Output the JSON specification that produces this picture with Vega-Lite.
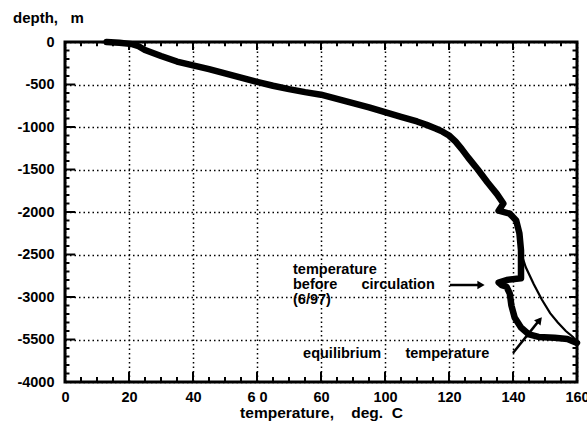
{
  "$schema": "https://vega.github.io/schema/vega-lite/v6.json",
  "width": 512,
  "height": 340,
  "autosize": {"type": "none"},
  "padding": {"left": 65, "top": 42, "right": 10, "bottom": 40},
  "background": "white",
  "config": {
    "font": "Liberation Sans",
    "view": {"stroke": "black", "strokeWidth": 3},
    "axis": {
      "domain": false,
      "ticks": false,
      "tickSize": 0,
      "labelFont": "Liberation Sans",
      "labelFontWeight": "bold",
      "labelFontSize": 14.5,
      "labelColor": "black",
      "gridColor": "black",
      "gridDash": [1.5, 3],
      "gridWidth": 1.5,
      "labelOverlap": false,
      "labelFlush": false,
      "titleFont": "Liberation Sans",
      "titleFontWeight": "bold",
      "titleFontSize": 15.5,
      "titleColor": "black"
    }
  },
  "datasets": {
    "xmajor": [{"t":0},{"t":20},{"t":40},{"t":60},{"t":80},{"t":100},{"t":120},{"t":140},{"t":160}],
    "xminor": [{"t":5},{"t":10},{"t":15},{"t":25},{"t":30},{"t":35},{"t":45},{"t":50},{"t":55},{"t":65},{"t":70},{"t":75},{"t":85},{"t":90},{"t":95},{"t":105},{"t":110},{"t":115},{"t":125},{"t":130},{"t":135},{"t":145},{"t":150},{"t":155}],
    "ymajor": [{"d":-4000},{"d":-3500},{"d":-3000},{"d":-2500},{"d":-2000},{"d":-1500},{"d":-1000},{"d":-500},{"d":0}],
    "yminor": [{"d":-3900},{"d":-3800},{"d":-3700},{"d":-3600},{"d":-3400},{"d":-3300},{"d":-3200},{"d":-3100},{"d":-2900},{"d":-2800},{"d":-2700},{"d":-2600},{"d":-2400},{"d":-2300},{"d":-2200},{"d":-2100},{"d":-1900},{"d":-1800},{"d":-1700},{"d":-1600},{"d":-1400},{"d":-1300},{"d":-1200},{"d":-1100},{"d":-900},{"d":-800},{"d":-700},{"d":-600},{"d":-400},{"d":-300},{"d":-200},{"d":-100}]
  },
  "title": {
    "text": "depth,\u00a0\u00a0\u00a0m",
    "anchor": "start",
    "frame": "group",
    "dx": -52,
    "offset": 8,
    "fontSize": 15,
    "fontWeight": "bold",
    "font": "Liberation Sans",
    "color": "black"
  },
  "layer": [
    {
      "data": {"values": [
        {"t": 13, "d": 0}, {"t": 17, "d": -10}, {"t": 21, "d": -25}, {"t": 23, "d": -50},
        {"t": 25, "d": -95}, {"t": 30, "d": -165}, {"t": 35, "d": -230}, {"t": 40, "d": -275},
        {"t": 45, "d": -320}, {"t": 50, "d": -370}, {"t": 55, "d": -420}, {"t": 60, "d": -470},
        {"t": 65, "d": -515}, {"t": 70, "d": -555}, {"t": 75, "d": -590}, {"t": 80, "d": -620},
        {"t": 85, "d": -670}, {"t": 90, "d": -720}, {"t": 95, "d": -770}, {"t": 100, "d": -825},
        {"t": 105, "d": -880}, {"t": 110, "d": -935}, {"t": 113, "d": -975}, {"t": 116, "d": -1020},
        {"t": 118, "d": -1055}, {"t": 120, "d": -1100}, {"t": 122, "d": -1170}, {"t": 124, "d": -1260},
        {"t": 126, "d": -1360}, {"t": 129, "d": -1500},
        {"t": 132, "d": -1650}, {"t": 135, "d": -1790}, {"t": 137, "d": -1900}, {"t": 135.5, "d": -1985},
        {"t": 139, "d": -2020}, {"t": 141, "d": -2100}, {"t": 142, "d": -2250}, {"t": 142.5, "d": -2450},
        {"t": 142.5, "d": -2650}, {"t": 142.5, "d": -2780}, {"t": 138, "d": -2800}, {"t": 135.5, "d": -2830},
        {"t": 136.5, "d": -2860}, {"t": 138, "d": -2880}, {"t": 139, "d": -2960}, {"t": 139.5, "d": -3100},
        {"t": 140.5, "d": -3240}, {"t": 142.5, "d": -3360}, {"t": 145, "d": -3440}, {"t": 148, "d": -3470},
        {"t": 153, "d": -3480}, {"t": 157, "d": -3495}, {"t": 160, "d": -3540}
      ]},
      "mark": {"type": "line", "color": "black", "strokeWidth": 6.5, "strokeJoin": "round", "strokeCap": "round"},
      "encoding": {
        "x": {
          "field": "t", "type": "quantitative",
          "scale": {"domain": [0, 160], "nice": false, "zero": false},
          "axis": {
            "orient": "bottom",
            "values": [0,20,40,60,80,100,120,140,160],
            "title": "temperature,\u00a0\u00a0\u00a0\u00a0deg.\u00a0\u00a0C",
            "titlePadding": 2,
            "labelExpr": "datum.value === 60 ? '6 0' : datum.value === 80 ? '60' : datum.label",
            "labelPadding": 8
          }
        },
        "y": {
          "field": "d", "type": "quantitative",
          "scale": {"domain": [-4000, 0], "nice": false, "zero": false},
          "axis": {
            "orient": "left",
            "values": [-4000,-3500,-3000,-2500,-2000,-1500,-1000,-500,0],
            "title": null,
            "labelExpr": "datum.value === -3500 ? '-5500' : '' + datum.value",
            "labelPadding": 11
          }
        },
        "order": {"value": null}
      }
    },
    {
      "data": {"values": [
        {"t": 142.5, "d": -2480}, {"t": 144, "d": -2650}, {"t": 146.5, "d": -2850}, {"t": 149, "d": -3030},
        {"t": 151.6, "d": -3190}, {"t": 154, "d": -3300}, {"t": 156.5, "d": -3400}, {"t": 158.75, "d": -3470},
        {"t": 160, "d": -3530}
      ]},
      "mark": {"type": "line", "color": "black", "strokeWidth": 2.2},
      "encoding": {
        "x": {"field": "t", "type": "quantitative", "axis": null},
        "y": {"field": "d", "type": "quantitative", "axis": null},
        "order": {"value": null}
      }
    },
    {
      "data": {"name": "xmajor"},
      "mark": {"type": "rule", "color": "black", "strokeWidth": 2},
      "encoding": {
        "x": {"field": "t", "type": "quantitative", "axis": null},
        "y": {"datum": -4000, "type": "quantitative", "axis": null},
        "y2": {"datum": -3880}
      }
    },
    {
      "data": {"name": "xminor"},
      "mark": {"type": "rule", "color": "black", "strokeWidth": 2},
      "encoding": {
        "x": {"field": "t", "type": "quantitative", "axis": null},
        "y": {"datum": -4000, "type": "quantitative", "axis": null},
        "y2": {"datum": -3940}
      }
    },
    {
      "data": {"name": "xmajor"},
      "mark": {"type": "rule", "color": "black", "strokeWidth": 2},
      "encoding": {
        "x": {"field": "t", "type": "quantitative", "axis": null},
        "y": {"datum": 0, "type": "quantitative", "axis": null},
        "y2": {"datum": -95}
      }
    },
    {
      "data": {"name": "xminor"},
      "mark": {"type": "rule", "color": "black", "strokeWidth": 2},
      "encoding": {
        "x": {"field": "t", "type": "quantitative", "axis": null},
        "y": {"datum": 0, "type": "quantitative", "axis": null},
        "y2": {"datum": -50}
      }
    },
    {
      "data": {"name": "ymajor"},
      "mark": {"type": "rule", "color": "black", "strokeWidth": 2},
      "encoding": {
        "y": {"field": "d", "type": "quantitative", "axis": null},
        "x": {"datum": 0, "type": "quantitative", "axis": null},
        "x2": {"datum": 3.2}
      }
    },
    {
      "data": {"name": "yminor"},
      "mark": {"type": "rule", "color": "black", "strokeWidth": 2},
      "encoding": {
        "y": {"field": "d", "type": "quantitative", "axis": null},
        "x": {"datum": 0, "type": "quantitative", "axis": null},
        "x2": {"datum": 1.4}
      }
    },
    {
      "data": {"name": "ymajor"},
      "mark": {"type": "rule", "color": "black", "strokeWidth": 2},
      "encoding": {
        "y": {"field": "d", "type": "quantitative", "axis": null},
        "x": {"datum": 160, "type": "quantitative", "axis": null},
        "x2": {"datum": 157.5}
      }
    },
    {
      "data": {"name": "yminor"},
      "mark": {"type": "rule", "color": "black", "strokeWidth": 2},
      "encoding": {
        "y": {"field": "d", "type": "quantitative", "axis": null},
        "x": {"datum": 160, "type": "quantitative", "axis": null},
        "x2": {"datum": 158.6}
      }
    },
    {
      "data": {"values": [
        {"t": 120.3, "d": -2859, "t2": 130, "d2": -2859},
        {"t": 140, "d": -3659, "t2": 148.5, "d2": -3260}
      ]},
      "mark": {"type": "rule", "color": "black", "strokeWidth": 2.5},
      "encoding": {
        "x": {"field": "t", "type": "quantitative", "axis": null},
        "y": {"field": "d", "type": "quantitative", "axis": null},
        "x2": {"field": "t2"},
        "y2": {"field": "d2"}
      }
    },
    {
      "data": {"values": [{"t": 130, "d": -2859}]},
      "mark": {"type": "point", "shape": "triangle-right", "filled": true, "color": "black", "size": 70, "opacity": 1},
      "encoding": {
        "x": {"field": "t", "type": "quantitative", "axis": null},
        "y": {"field": "d", "type": "quantitative", "axis": null}
      }
    },
    {
      "data": {"values": [{"t": 148.3, "d": -3270}]},
      "mark": {"type": "point", "shape": "triangle-up", "angle": 39, "filled": true, "color": "black", "size": 70, "opacity": 1},
      "encoding": {
        "x": {"field": "t", "type": "quantitative", "axis": null},
        "y": {"field": "d", "type": "quantitative", "axis": null}
      }
    },
    {
      "data": {"values": [
        {"label": "temperature", "t": 71.25, "d": -2682},
        {"label": "before\u00a0\u00a0\u00a0\u00a0\u00a0\u00a0circulation", "t": 71.25, "d": -2859},
        {"label": "(6/97)", "t": 71.25, "d": -3035},
        {"label": "equilibrium\u00a0\u00a0\u00a0\u00a0\u00a0\u00a0temperature", "t": 74.4, "d": -3671}
      ]},
      "mark": {"type": "text", "align": "left", "baseline": "middle", "font": "Liberation Sans", "fontWeight": "bold", "fontSize": 14.5, "color": "black"},
      "encoding": {
        "x": {"field": "t", "type": "quantitative", "axis": null},
        "y": {"field": "d", "type": "quantitative", "axis": null},
        "text": {"field": "label"}
      }
    }
  ],
  "resolve": {"axis": {"x": "independent", "y": "independent"}}
}
